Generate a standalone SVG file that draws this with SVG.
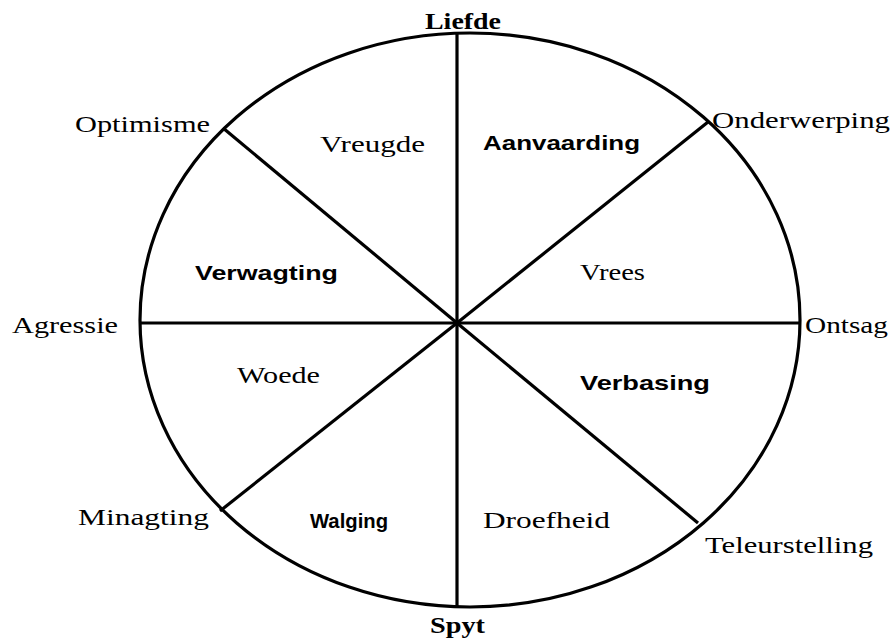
<svg xmlns="http://www.w3.org/2000/svg" width="895" height="644" viewBox="0 0 895 644">
<style>
.ln{stroke:#000;stroke-width:3.2;fill:none;stroke-linecap:butt}
.t{font-family:"Liberation Serif","Times New Roman",serif;font-size:24px;fill:#000}
.tb{font-family:"Liberation Serif","Times New Roman",serif;font-size:24px;font-weight:bold;fill:#000}
.ts{font-family:"Liberation Sans",Arial,sans-serif;font-size:21px;font-weight:bold;fill:#000}
</style>
<rect width="895" height="644" fill="#fff"/>
<g id="wheel">
<ellipse class="ln" cx="470" cy="320" rx="330" ry="287"/>
</g>
<g id="connectors">
<line class="ln" x1="457" y1="33" x2="457" y2="607"/>
<line class="ln" x1="140" y1="323" x2="800" y2="323"/>
<line class="ln" x1="223" y1="128" x2="457" y2="323"/>
<line class="ln" x1="708" y1="122" x2="457" y2="323"/>
<line class="ln" x1="220" y1="511" x2="457" y2="323"/>
<line class="ln" x1="698" y1="523" x2="457" y2="323"/>
</g>
<g id="outer-labels">
<text id="liefde" class="tb" x="425" y="29" textLength="76" lengthAdjust="spacingAndGlyphs">Liefde</text>
<text id="optimisme" class="t" x="75" y="132" textLength="135" lengthAdjust="spacingAndGlyphs">Optimisme</text>
<text id="onderwerping" class="t" x="712" y="128" textLength="178" lengthAdjust="spacingAndGlyphs">Onderwerping</text>
<text id="agressie" class="t" x="12" y="333" textLength="106" lengthAdjust="spacingAndGlyphs">Agressie</text>
<text id="ontsag" class="t" x="805" y="333" textLength="83" lengthAdjust="spacingAndGlyphs">Ontsag</text>
<text id="minagting" class="t" x="78" y="525" textLength="131" lengthAdjust="spacingAndGlyphs">Minagting</text>
<text id="teleurstelling" class="t" x="705" y="553" textLength="168" lengthAdjust="spacingAndGlyphs">Teleurstelling</text>
<text id="spyt" class="tb" x="430" y="633" textLength="55" lengthAdjust="spacingAndGlyphs">Spyt</text>
</g>
<g id="inner-labels">
<text id="vreugde" class="t" x="320" y="152" textLength="105" lengthAdjust="spacingAndGlyphs">Vreugde</text>
<text id="aanvaarding" class="ts" x="483" y="150" textLength="157" lengthAdjust="spacingAndGlyphs">Aanvaarding</text>
<text id="verwagting" class="ts" x="195" y="280" textLength="143" lengthAdjust="spacingAndGlyphs">Verwagting</text>
<text id="vrees" class="t" x="580" y="280" textLength="65" lengthAdjust="spacingAndGlyphs">Vrees</text>
<text id="woede" class="t" x="237" y="383" textLength="83" lengthAdjust="spacingAndGlyphs">Woede</text>
<text id="verbasing" class="ts" x="580" y="390" textLength="130" lengthAdjust="spacingAndGlyphs">Verbasing</text>
<text id="walging" class="ts" x="310" y="528" textLength="78" lengthAdjust="spacingAndGlyphs">Walging</text>
<text id="droefheid" class="t" x="483" y="528" textLength="127" lengthAdjust="spacingAndGlyphs">Droefheid</text>
</g>
</svg>
